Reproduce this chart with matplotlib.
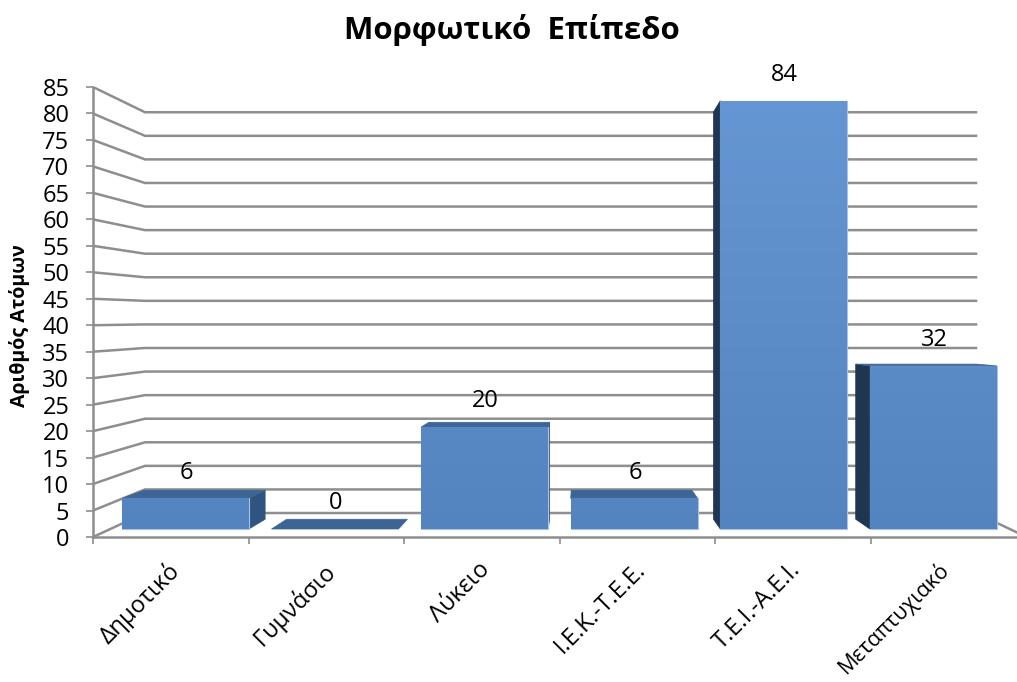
import numpy as np
import matplotlib
matplotlib.use('Agg')
import matplotlib.pyplot as plt
from matplotlib.colors import LinearSegmentedColormap
from matplotlib.patches import Polygon
from matplotlib.transforms import ScaledTranslation

categories = ['Δημοτικό', 'Γυμνάσιο', 'Λύκειο', 'Ι.Ε.Κ.-Τ.Ε.Ε.', 'Τ.Ε.Ι.-Α.Ε.Ι.', 'Μεταπτυχιακό']
values = [6, 0, 20, 6, 84, 32]
y_ticks = list(range(0, 90, 5))

plt.rcParams['font.family'] = ['Open Sans', 'DejaVu Sans']

GRID = '#8e8e8e'
TOP = '#3c6494'
RIGHT = '#2f5480'
LEFT = '#1f3651'

# fake 3d: everything is projected onto one axes, units are axis values
depth = 0.951
vp_x = 3.13
vp_y = 39.1
wall_left = 0.334
wall_right = 5.675
bar_scale = 0.963
bar_base = 1.51
bar_width = 0.816


def wall_y(v):
    return 4.53 + 0.8906 * v


def back(x, y):
    return vp_x + (x - vp_x) * depth, vp_y + (y - vp_y) * depth


fig = plt.figure(figsize=(10.17, 6.82), dpi=100)
ax = fig.add_axes([93 / 1017, (682 - 537) / 682, 933.6 / 1017, 450 / 682])

# walls and floor
for v in y_ticks:
    ax.plot([0, wall_left, wall_right], [v, wall_y(v), wall_y(v)], color=GRID, lw=1.8, zorder=1,
            solid_joinstyle='miter')
ax.plot([wall_right, 6], [wall_y(0), 0], color=GRID, lw=1.8, zorder=1)

gradient = LinearSegmentedColormap.from_list('bar', ['#5484bf', '#6597d4'])
grad_img = np.linspace(0, 1, 256).reshape(-1, 1)

xs = [0.594 + 0.9614 * i for i in range(len(values))]
for i, (x, val) in enumerate(zip(xs, values)):
    x0 = x - bar_width / 2
    x1 = x + bar_width / 2
    y0 = bar_base
    y1 = bar_base + val * bar_scale
    z = 3 + i
    bx0, by0 = back(x0, y0)
    bx1, by1 = back(x1, y1)
    bx0t, by1t = back(x0, y1)
    bx1b, by0b = back(x1, y0)
    # sides and top of the box
    if bx0 < x0 and val > 0:
        ax.add_patch(Polygon([(x0, y0), (x0, y1), (bx0, by1t), (bx0, by0)], fc=LEFT, ec=LEFT, lw=0.5, zorder=z))
    if bx1 > x1 and val > 0:
        ax.add_patch(Polygon([(x1, y0), (x1, y1), (bx1, by1), (bx1, by0b)], fc=RIGHT, ec=RIGHT, lw=0.5, zorder=z))
    if by1 > y1:
        ax.add_patch(Polygon([(x0, y1), (x1, y1), (bx1, by1), (bx0t, by1t)], fc=TOP, ec=TOP, lw=0.5, zorder=z))
    if val > 0:
        bar = ax.bar(x, val * bar_scale, bar_width, bottom=bar_base, color='#5b8bc9', edgecolor='#a8c3e6',
                     lw=0.8, zorder=z + 0.1)[0]
        im = ax.imshow(grad_img, extent=[0, 6, 0, 85], origin='lower', cmap=gradient, aspect='auto',
                       zorder=z + 0.2)
        im.set_clip_path(bar)
    ax.annotate(str(val), (x, y1), xytext=(0.7, 10), textcoords='offset points', ha='center', va='bottom',
                fontsize=17, color='black', zorder=20)

ax.set_xlim(0, 6)
ax.set_ylim(0, 85)
ax.set_yticks(y_ticks)
ax.set_xticks(range(0, 7))
ax.set_xticklabels([])
ax.set_xticks([i + 0.5 for i in range(6)], categories, minor=True, rotation=45, ha='right', va='top',
              rotation_mode='anchor', fontsize=17)
ax.tick_params(axis='x', which='minor', length=0, pad=15)
ax.tick_params(axis='x', which='major', length=5, width=1.2, color=GRID)
ax.tick_params(axis='y', length=5, width=1.2, color=GRID, labelsize=17, pad=12)
for lab in ax.get_xticklabels(minor=True):
    # the last label is long, it has to stay inside the picture
    if lab.get_text() == categories[-1]:
        lab.set_fontsize(15.5)
        lab.set_transform(lab.get_transform() + ScaledTranslation(-8 / 72, 0, fig.dpi_scale_trans))
    else:
        lab.set_transform(lab.get_transform() + ScaledTranslation(-3 / 72, 0, fig.dpi_scale_trans))
for s in ['top', 'right']:
    ax.spines[s].set_visible(False)
for s in ['left', 'bottom']:
    ax.spines[s].set_color(GRID)
    ax.spines[s].set_linewidth(1.8)
ax.patch.set_alpha(0)

ax.set_ylabel('Αριθμός Ατόμων', fontsize=14, fontweight='bold')
ax.yaxis.set_label_coords(-63 / 933.6, 0.47)
fig.text(512 / 1017, 1 - 30 / 682, 'Μορφωτικό  Επίπεδο', fontsize=22.5, fontweight='bold', ha='center', va='center')

fig.savefig('out.png', dpi=100)
